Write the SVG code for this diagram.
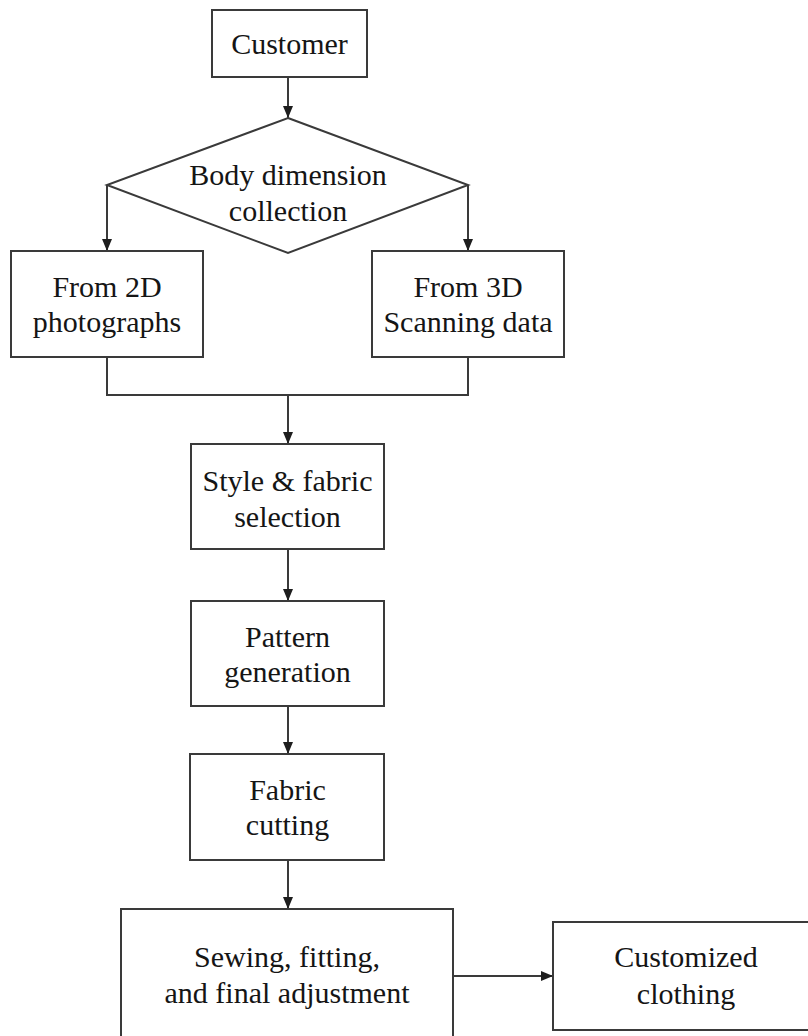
<svg xmlns="http://www.w3.org/2000/svg" width="808" height="1036" viewBox="0 0 808 1036">
<style>
.box{fill:#fff;stroke:#3a3a3a;stroke-width:2}
.t{font-family:"Liberation Serif","Times New Roman",serif;font-size:30px;fill:#151515;text-anchor:middle}
.c{fill:none;stroke:#3a3a3a;stroke-width:2}
</style>
<defs>
<marker id="ah" markerUnits="userSpaceOnUse" markerWidth="12" markerHeight="10" refX="12" refY="5" orient="auto">
<path d="M0,0 L12,5 L0,10 Z" fill="#1e1e1e"/>
</marker>
</defs>
<rect width="808" height="1036" fill="#fff"/>
<g id="connectors">
<line class="c" x1="288" y1="77" x2="288" y2="118" marker-end="url(#ah)"/>
<line class="c" x1="107" y1="185" x2="107" y2="251" marker-end="url(#ah)"/>
<line class="c" x1="468" y1="185" x2="468" y2="251" marker-end="url(#ah)"/>
<polyline class="c" points="107,357 107,395 468,395 468,357"/>
<line class="c" x1="288" y1="395" x2="288" y2="444" marker-end="url(#ah)"/>
<line class="c" x1="288" y1="549" x2="288" y2="601" marker-end="url(#ah)"/>
<line class="c" x1="288" y1="706" x2="288" y2="754" marker-end="url(#ah)"/>
<line class="c" x1="288" y1="860" x2="288" y2="909" marker-end="url(#ah)"/>
<line class="c" x1="453" y1="976" x2="553" y2="976" marker-end="url(#ah)"/>
</g>
<g id="customer">
<rect class="box" x="212" y="10" width="155" height="67"/>
<text class="t" x="289.5" y="54">Customer</text>
</g>
<g id="body-dimension">
<polygon class="box" points="288,118 468,185 288,253 107,185"/>
<text class="t" x="288" y="185">Body dimension</text>
<text class="t" x="288" y="221">collection</text>
</g>
<g id="from-2d">
<rect class="box" x="11" y="251" width="192" height="106"/>
<text class="t" x="107" y="297">From 2D</text>
<text class="t" x="107" y="332">photographs</text>
</g>
<g id="from-3d">
<rect class="box" x="372" y="251" width="192" height="106"/>
<text class="t" x="468" y="297">From 3D</text>
<text class="t" x="468" y="332">Scanning data</text>
</g>
<g id="style-fabric">
<rect class="box" x="191" y="444" width="193" height="105"/>
<text class="t" x="287.5" y="491">Style &amp; fabric</text>
<text class="t" x="287.5" y="527">selection</text>
</g>
<g id="pattern">
<rect class="box" x="191" y="601" width="193" height="105"/>
<text class="t" x="287.5" y="647">Pattern</text>
<text class="t" x="287.5" y="682">generation</text>
</g>
<g id="fabric-cutting">
<rect class="box" x="190" y="754" width="194" height="106"/>
<text class="t" x="287.5" y="800">Fabric</text>
<text class="t" x="287.5" y="835">cutting</text>
</g>
<g id="sewing">
<rect class="box" x="121" y="909" width="332" height="140"/>
<text class="t" x="287" y="967">Sewing, fitting,</text>
<text class="t" x="287" y="1003">and final adjustment</text>
</g>
<g id="customized">
<rect class="box" x="553" y="922" width="266" height="108"/>
<text class="t" x="686" y="967">Customized</text>
<text class="t" x="686" y="1004">clothing</text>
</g>
</svg>
